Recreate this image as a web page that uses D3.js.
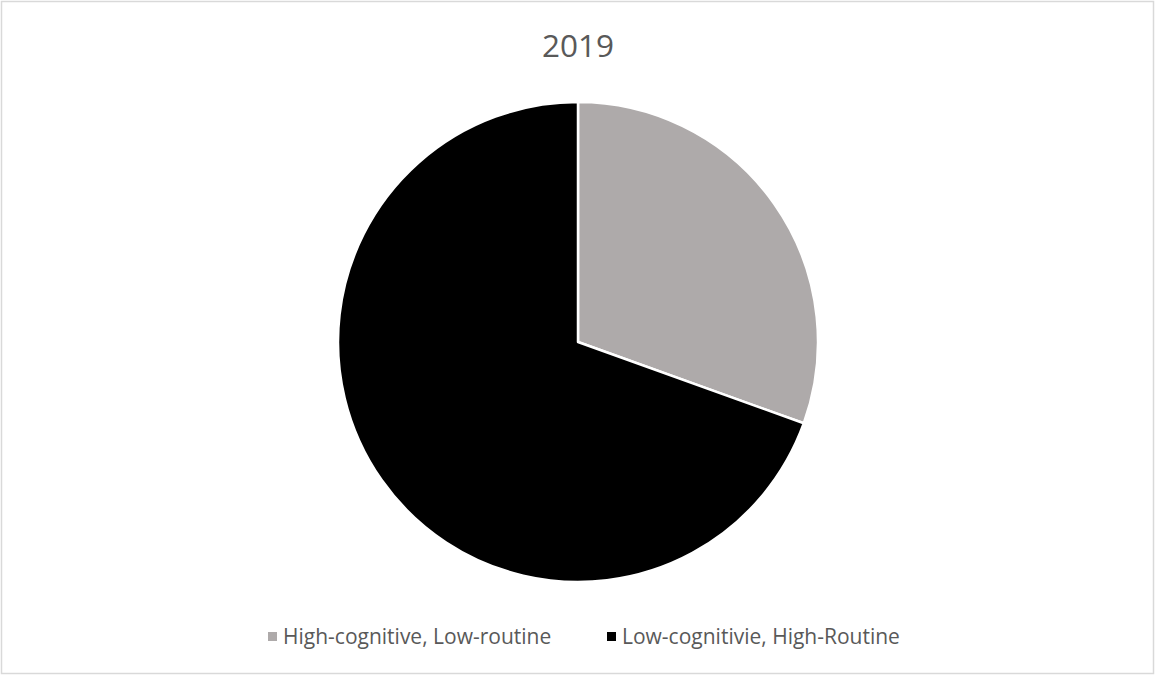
<!DOCTYPE html>
<html><head><meta charset="utf-8">
<script src="https://cdn.jsdelivr.net/npm/d3@7"></script>
<style>body{margin:0;background:#fff;} svg{display:block;}</style>
</head><body>
<svg id="c" width="1155" height="675"></svg>
<script>
const title = "2019";
const categories = ["High-cognitive, Low-routine", "Low-cognitivie, High-Routine"];
const values = [30.5, 69.5];
const colors = ["#AEAAAA", "#000000"];

const svg = d3.select("#c");
const W = 1155, H = 675;
svg.append("rect").attr("x", 1.5).attr("y", 1.5).attr("width", W - 3).attr("height", H - 3)
  .attr("fill", "#fff").attr("stroke", "#D9D9D9").attr("stroke-width", 1.5);

const font = "Open Sans, sans-serif";
svg.append("text").attr("x", 578).attr("y", 57).attr("text-anchor", "middle")
  .attr("font-family", font).attr("font-size", 31.5).attr("fill", "#595959").text(title);

const cx = 578, cy = 342, r = 240;
const pie = d3.pie().sort(null).value(d => d)(values);
const arc = d3.arc().innerRadius(0).outerRadius(r);
svg.append("g").attr("transform", `translate(${cx},${cy})`)
  .selectAll("path").data(pie).join("path")
  .attr("d", arc).attr("fill", (d, i) => colors[i])
  .attr("stroke", "#fff").attr("stroke-width", 2.5).attr("stroke-linejoin", "round");

const legendX = [268, 607];
const lg = svg.append("g");
categories.forEach((c, i) => {
  lg.append("rect").attr("x", legendX[i]).attr("y", 632).attr("width", 9).attr("height", 9).attr("fill", colors[i]);
  lg.append("text").attr("x", legendX[i] + 15).attr("y", 643.5).attr("font-family", font)
    .attr("font-size", 21).attr("fill", "#595959").text(c);
});
</script>
</body></html>
